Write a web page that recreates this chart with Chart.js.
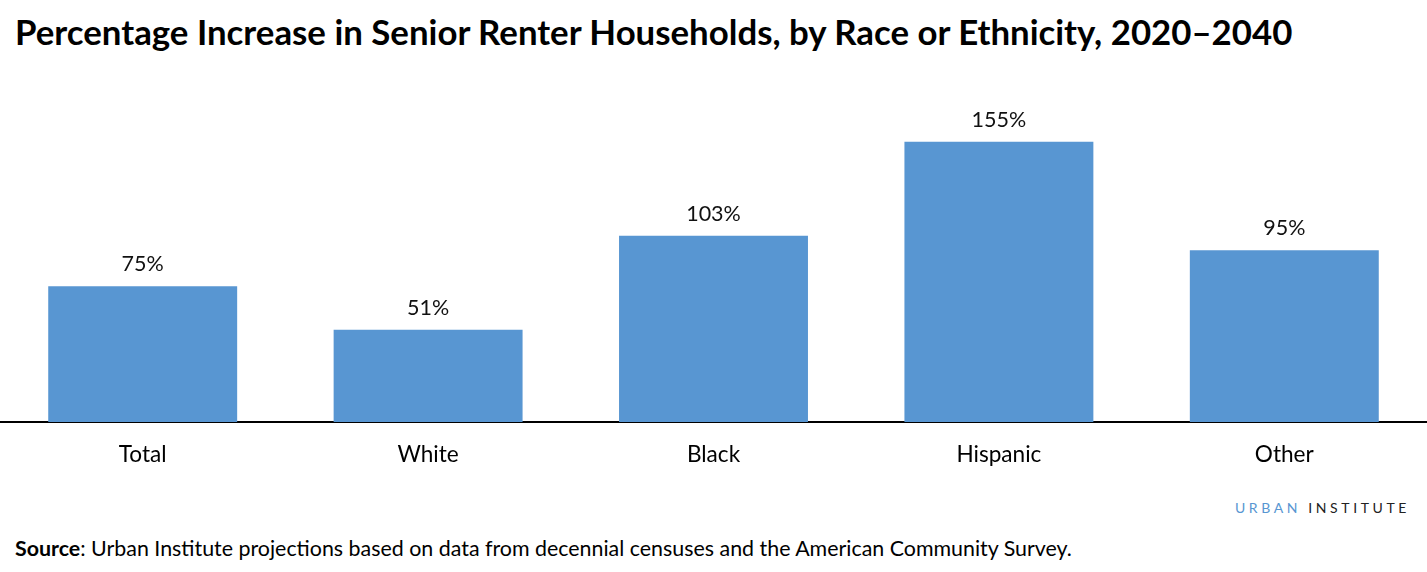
<!DOCTYPE html>
<html>
<head>
<meta charset="utf-8">
<script src="https://cdn.jsdelivr.net/npm/chart.js@4"></script>
<style>
  body { margin: 0; width: 1427px; height: 572px; background: #fff; font-family: Lato, sans-serif; position: relative; overflow: hidden; }
  #title { position: absolute; left: 15px; top: 11px; font-size: 34.8px; font-weight: bold; color: #000; white-space: nowrap; }
  #wrap { position: absolute; left: 0; top: 0; width: 1427px; height: 487px; }
  #brand { position: absolute; right: 17px; top: 499px; font-size: 14px; letter-spacing: 3.6px; color: #222; }
  #brand span { color: #5896d2; }
  #source { position: absolute; left: 15px; top: 535px; font-size: 21.4px; color: #000; white-space: nowrap; }
</style>
</head>
<body>
<div id="title">Percentage Increase in Senior Renter Households, by Race or Ethnicity, 2020–2040</div>
<div id="wrap"><canvas id="myChart"></canvas></div>
<div id="brand"><span>URBAN</span> INSTITUTE</div>
<div id="source"><b>Source</b>: Urban Institute projections based on data from decennial censuses and the American Community Survey.</div>
<script>
'use strict';

let groups = ['Total', 'White', 'Black', 'Hispanic', 'Other'];
let increase = [75, 51, 103, 155, 95];

// percent labels above each bar
let barLabels = {
    id: 'barLabels',
    afterDatasetsDraw(chart) {
        let ctx = chart.ctx;
        let meta = chart.getDatasetMeta(0);
        ctx.save();
        ctx.font = '21.5px Lato, sans-serif';
        ctx.fillStyle = '#111';
        ctx.textAlign = 'center';
        ctx.textBaseline = 'middle';
        meta.data.forEach(function (bar, i) {
            ctx.fillText(increase[i] + '%', bar.x, bar.y - 22);
        });
        ctx.restore();
    }
};

let ctx = document.getElementById('myChart').getContext('2d');

let myChart = new Chart(ctx, {
    type: 'bar',
    data: {
        labels: groups,
        datasets: [{
            data: increase,
            backgroundColor: '#5896d2',
            borderWidth: 0,
            categoryPercentage: 0.662,
            barPercentage: 1
        }]
    },
    options: {
        responsive: true,
        maintainAspectRatio: false,
        animation: false,
        layout: { padding: { top: 96.6, left: 0, right: 0, bottom: 0 } },
        plugins: {
            legend: { display: false },
            tooltip: { enabled: false }
        },
        scales: {
            x: {
                grid: { display: false, drawTicks: false },
                border: { display: true, color: '#000', width: 2 },
                ticks: {
                    color: '#000',
                    padding: 19,
                    font: { family: 'Lato, sans-serif', size: 22.6 }
                }
            },
            y: {
                display: false,
                min: 0,
                max: 180
            }
        }
    },
    plugins: [barLabels]
});
</script>
</body>
</html>
